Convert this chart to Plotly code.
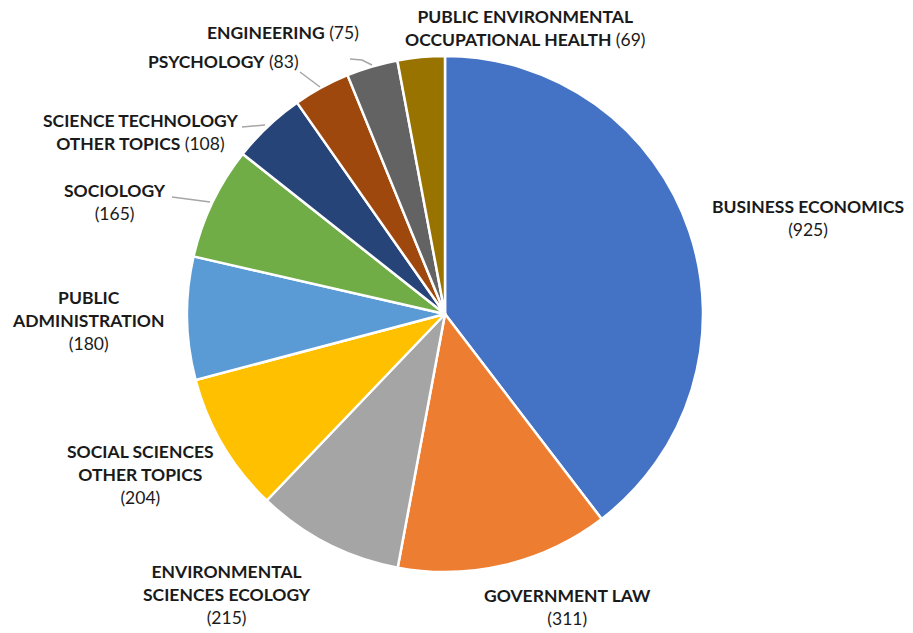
import plotly.graph_objects as go

categories = ["BUSINESS ECONOMICS", "GOVERNMENT LAW", "ENVIRONMENTAL SCIENCES ECOLOGY",
              "SOCIAL SCIENCES OTHER TOPICS", "PUBLIC ADMINISTRATION", "SOCIOLOGY",
              "SCIENCE TECHNOLOGY OTHER TOPICS", "PSYCHOLOGY", "ENGINEERING",
              "PUBLIC ENVIRONMENTAL OCCUPATIONAL HEALTH"]
values = [925, 311, 215, 204, 180, 165, 108, 83, 75, 69]
label_lines = [["BUSINESS ECONOMICS"], ["GOVERNMENT LAW"], ["ENVIRONMENTAL", "SCIENCES ECOLOGY"],
               ["SOCIAL SCIENCES", "OTHER TOPICS"], ["PUBLIC", "ADMINISTRATION"], ["SOCIOLOGY"],
               ["SCIENCE TECHNOLOGY", "OTHER TOPICS"], ["PSYCHOLOGY"], ["ENGINEERING"],
               ["PUBLIC ENVIRONMENTAL", "OCCUPATIONAL HEALTH"]]
value_inline = [False, False, False, False, False, False, True, True, True, True]

colors = ["#4472C4", "#ED7D31", "#A5A5A5", "#FFC000", "#5B9BD5",
          "#70AD47", "#264478", "#9E480E", "#636363", "#997300"]

W, H = 913, 633
cx, cy, r = 445, 314, 258

# label block centres (pixels)
label_pos = [(808, 218), (567, 607), (227, 594), (140, 474), (88, 320),
             (115, 202), (140, 132), (223, 62), (283, 33), (525, 28)]
leaders = [None, None, None, None, None,
           [(172, 197), (210, 202)],
           [(242, 127), (265, 125)],
           [(300, 72), (320, 87)],
           [(350, 59), (362, 60), (372, 65)],
           None]

def px(x):
    return x / W

def py(y):
    return 1 - y / H

fig = go.Figure(go.Pie(
    labels=categories, values=values, sort=False, direction="clockwise", rotation=0,
    marker=dict(colors=colors, line=dict(color="white", width=2.5)),
    textinfo="none", hoverinfo="label+value", showlegend=False,
    domain=dict(x=[px(cx - r), px(cx + r)], y=[py(cy + r), py(cy - r)]),
))

annotations = []
for lines, v, inline, (lx, ly) in zip(label_lines, values, value_inline, label_pos):
    bold = ["<b>" + l + "</b>" for l in lines]
    if inline:
        bold[-1] = bold[-1] + " (" + str(v) + ")"
        text = "<br>".join(bold)
    else:
        text = "<br>".join(bold + ["(" + str(v) + ")"])
    annotations.append(dict(x=px(lx), y=py(ly), xref="paper", yref="paper", text=text,
                            showarrow=False, xanchor="center", yanchor="middle", align="center",
                            font=dict(family="Lato", size=17.5, color="#1a1a1a")))

shapes = []
for seg in leaders:
    if seg is None:
        continue
    path = "M " + " L ".join(f"{px(x)},{py(y)}" for x, y in seg)
    shapes.append(dict(type="path", xref="paper", yref="paper", path=path,
                       line=dict(color="#A6A6A6", width=1.5)))

fig.update_layout(width=W, height=H, margin=dict(l=0, r=0, t=0, b=0),
                  paper_bgcolor="white", plot_bgcolor="white",
                  annotations=annotations, shapes=shapes)

fig.write_html("out.html")
